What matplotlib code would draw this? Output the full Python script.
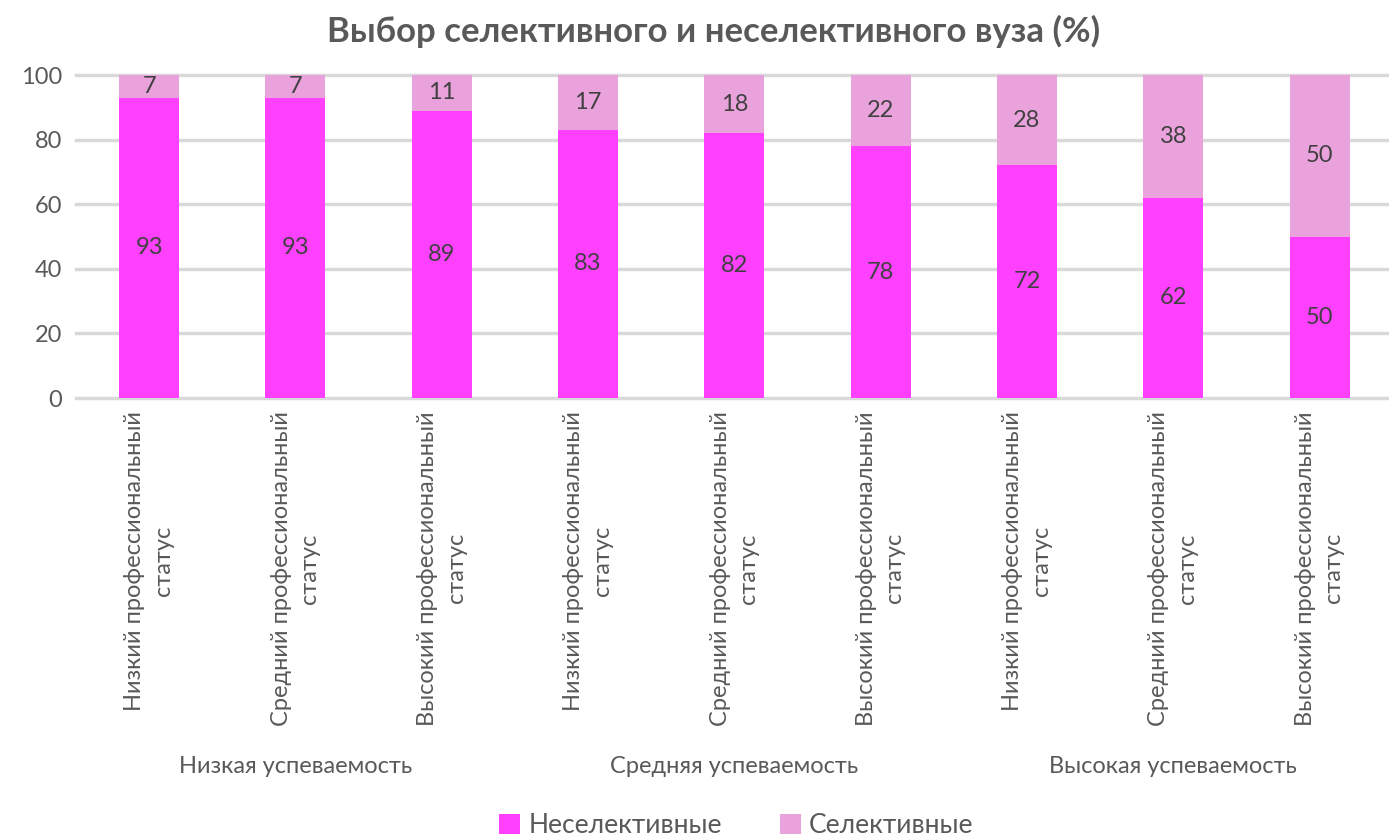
import numpy as np
import matplotlib.pyplot as plt

# данные
groups = ['Низкая успеваемость', 'Средняя успеваемость', 'Высокая успеваемость']
statuses = ['Низкий профессиональный\nстатус',
            'Средний профессиональный\nстатус',
            'Высокий профессиональный\nстатус']
nonselective = [93, 93, 89, 83, 82, 78, 72, 62, 50]
selective = [7, 7, 11, 17, 18, 22, 28, 38, 50]

c_non = '#FF40FF'
c_sel = '#EAA2DC'
txt = '#595959'

plt.rcParams['font.family'] = ['Lato', 'DejaVu Sans']

fig = plt.figure(figsize=(13.89, 8.39), dpi=100)
ax = fig.add_axes([0.0547, 0.5256, 0.948, 0.385])

x = np.arange(len(nonselective))
b1 = ax.bar(x, nonselective, width=0.41, color=c_non, zorder=3, label='Неселективные')
b2 = ax.bar(x, selective, width=0.41, bottom=nonselective, color=c_sel, zorder=3,
            label='Селективные')

for i in range(len(x)):
    ax.text(x[i], nonselective[i] / 2, str(nonselective[i]), ha='center', va='center',
            fontsize=17, color='#404040', zorder=4)
    ax.text(x[i], nonselective[i] + selective[i] / 2, str(selective[i]), ha='center',
            va='center', fontsize=17, color='#404040', zorder=4)

ax.set_xlim(-0.5, len(x) - 0.5)
ax.set_ylim(0, 100)
ax.set_yticks(range(0, 101, 20))
ax.yaxis.grid(True, color='#D9D9D9', linewidth=2.5, zorder=0)
for gl in ax.get_ygridlines():
    gl.set_clip_on(False)
for s in ax.spines.values():
    s.set_visible(False)
ax.tick_params(axis='y', length=0, labelsize=17, labelcolor=txt, pad=10)
ax.set_xticks([])

# подписи категорий
for i in range(len(x)):
    ax.text(x[i], -4.0, statuses[i % 3], rotation=90, ha='center', va='top',
            multialignment='center', fontsize=17, color=txt, linespacing=1.45)

for g, name in enumerate(groups):
    ax.text(3 * g + 1, -114, name, ha='center', va='center', fontsize=17, color=txt)

fig.text(0.514, 0.963, 'Выбор селективного и неселективного вуза (%)', ha='center',
         va='center', fontsize=25, fontweight='bold', color=txt)

fig.legend(handles=[b1, b2], loc='center', bbox_to_anchor=(0.53, 0.016), ncol=2,
           frameon=False, fontsize=19, labelcolor=txt, handlelength=0.8,
           handleheight=0.8, handletextpad=0.3, columnspacing=2.2)

fig.savefig('out.png', dpi=100)
